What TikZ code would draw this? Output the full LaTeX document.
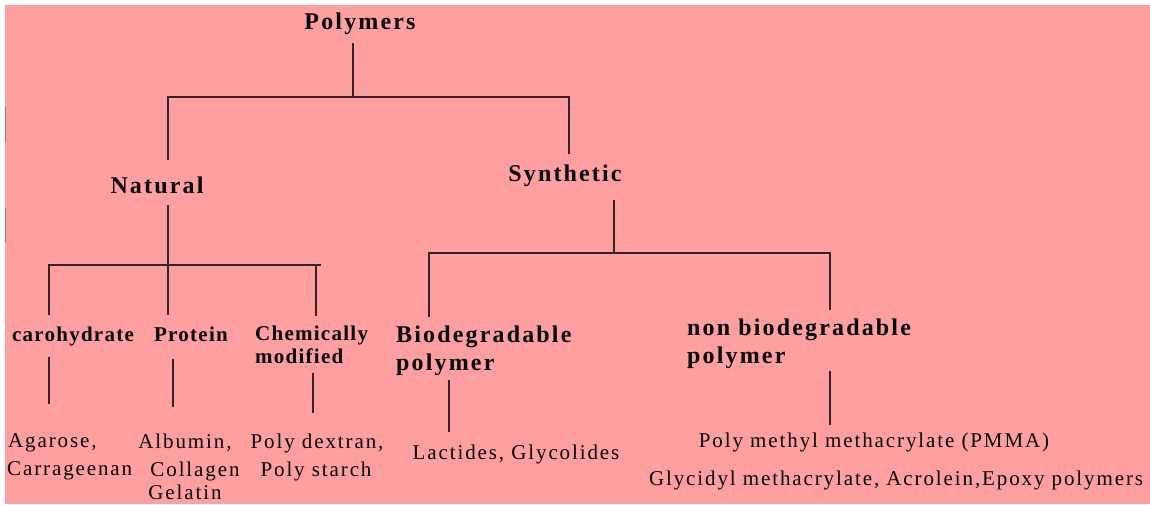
\documentclass[tikz,border=0pt]{standalone}
\usepackage{fontspec}
\setmainfont{Liberation Serif}
\newfontfamily\headfont[LetterSpace=9]{Liberation Serif}
\newfontfamily\subfont[LetterSpace=6]{Liberation Serif}
\newfontfamily\itemfont[LetterSpace=9]{Liberation Serif}
\definecolor{sheet}{HTML}{FF9F9F}
\definecolor{ink}{HTML}{332424}
\tikzset{
  head/.style={font=\headfont\bfseries\fontsize{24}{28}\selectfont, inner sep=0pt, align=left},
  sub/.style={font=\subfont\bfseries\fontsize{21}{23}\selectfont, inner sep=0pt, align=left},
  item/.style={font=\itemfont\fontsize{21}{28}\selectfont, inner sep=0pt},
  link/.style={ink, line width=1.6pt},
}

\begin{document}
\begin{tikzpicture}[x=1pt, y=-1pt]
    \useasboundingbox (0,0) rectangle (1150,504);

    % Draw the sheet
    \fill[sheet] (5,5) rectangle (1150,504);
    \draw[gray, line width=1pt] (5,107) -- (5,142) (5,208) -- (5,242);

    % Labels
    \node[head, anchor=base] (poly) at (360,29) {Polymers};
    \node[head, anchor=base] (nat) at (157,193) {Natural};
    \node[head, anchor=base] (syn) at (565,181) {Synthetic};

    \node[sub, anchor=base] (carb) at (73,341) {carohydrate};
    \node[sub, anchor=base] (prot) at (191,341) {Protein};
    \node[sub, anchor=base west] (chem) at (255,363) {Chemically\\modified};
    \node[head, anchor=base west] (bio) at (396,370) {Biodegradable\\polymer};
    \node[head, anchor=base west] (nonbio) at (687,363) {non biodegradable\\polymer};

    % Examples
    \node[item, anchor=base west] (agar) at (8,447) {Agarose,};
    \node[item, anchor=base west] (carr) at (7,475) {Carrageenan};
    \node[item, anchor=base] (alb) at (185,448) {Albumin,};
    \node[item, anchor=base] (coll) at (195,476) {Collagen};
    \node[item, anchor=base] (gel) at (185,499) {Gelatin};
    \node[item, anchor=base] (dext) at (317,448) {Poly dextran,};
    \node[item, anchor=base] (starch) at (316,476) {Poly starch};
    \node[item, anchor=base] (lact) at (516,459) {Lactides, Glycolides};
    \node[item, anchor=base] (pmma) at (874,447) {Poly methyl methacrylate (PMMA)};
    \node[item, anchor=base] (glyc) at (896,485) {Glycidyl methacrylate, Acrolein,Epoxy polymers};

    % Top split
    \coordinate (polystem) at (353,43);
    \coordinate (polyjoin) at (353,97);
    \coordinate (natjoin) at (168,97);
    \coordinate (synjoin) at (569,97);
    \coordinate (nattop) at (168,160);
    \coordinate (syntop) at (569,154);
    \draw[link] (polystem) -- (polyjoin);
    \draw[link] (nattop) -- (natjoin) -- (synjoin) -- (syntop);

    % Natural split
    \coordinate (natstem) at (168,205);
    \coordinate (carbjoin) at (49,265);
    \coordinate (chemjoin) at (316,265);
    \coordinate (carbtop) at (49,315);
    \coordinate (prottop) at (168,315);
    \coordinate (chemtop) at (316,316);
    \draw[link] (natstem) -- (prottop);
    \draw[link] (carbtop) -- (carbjoin) -- ([xshift=5pt]chemjoin);
    \draw[link] (chemjoin) -- (chemtop);

    % Synthetic split
    \coordinate (synstem) at (614,200);
    \coordinate (synbar) at (614,253);
    \coordinate (biojoin) at (429,253);
    \coordinate (nonjoin) at (830,253);
    \coordinate (biotop) at (429,317);
    \coordinate (nontop) at (830,310);
    \draw[link] (synstem) -- (synbar);
    \draw[link] (biotop) -- (biojoin) -- (nonjoin) -- (nontop);

    % Stems down to the examples
    \coordinate (carbstem) at (49,357);
    \coordinate (carbleaf) at (49,404);
    \coordinate (protstem) at (173,359);
    \coordinate (protleaf) at (173,407);
    \coordinate (chemstem) at (313,373);
    \coordinate (chemleaf) at (313,413);
    \coordinate (biostem) at (449,380);
    \coordinate (bioleaf) at (449,432);
    \coordinate (nonstem) at (830,371);
    \coordinate (nonleaf) at (830,425);
    \draw[link] (carbstem) -- (carbleaf);
    \draw[link] (protstem) -- (protleaf);
    \draw[link] (chemstem) -- (chemleaf);
    \draw[link] (biostem) -- (bioleaf);
    \draw[link] (nonstem) -- (nonleaf);
\end{tikzpicture}
\end{document}
